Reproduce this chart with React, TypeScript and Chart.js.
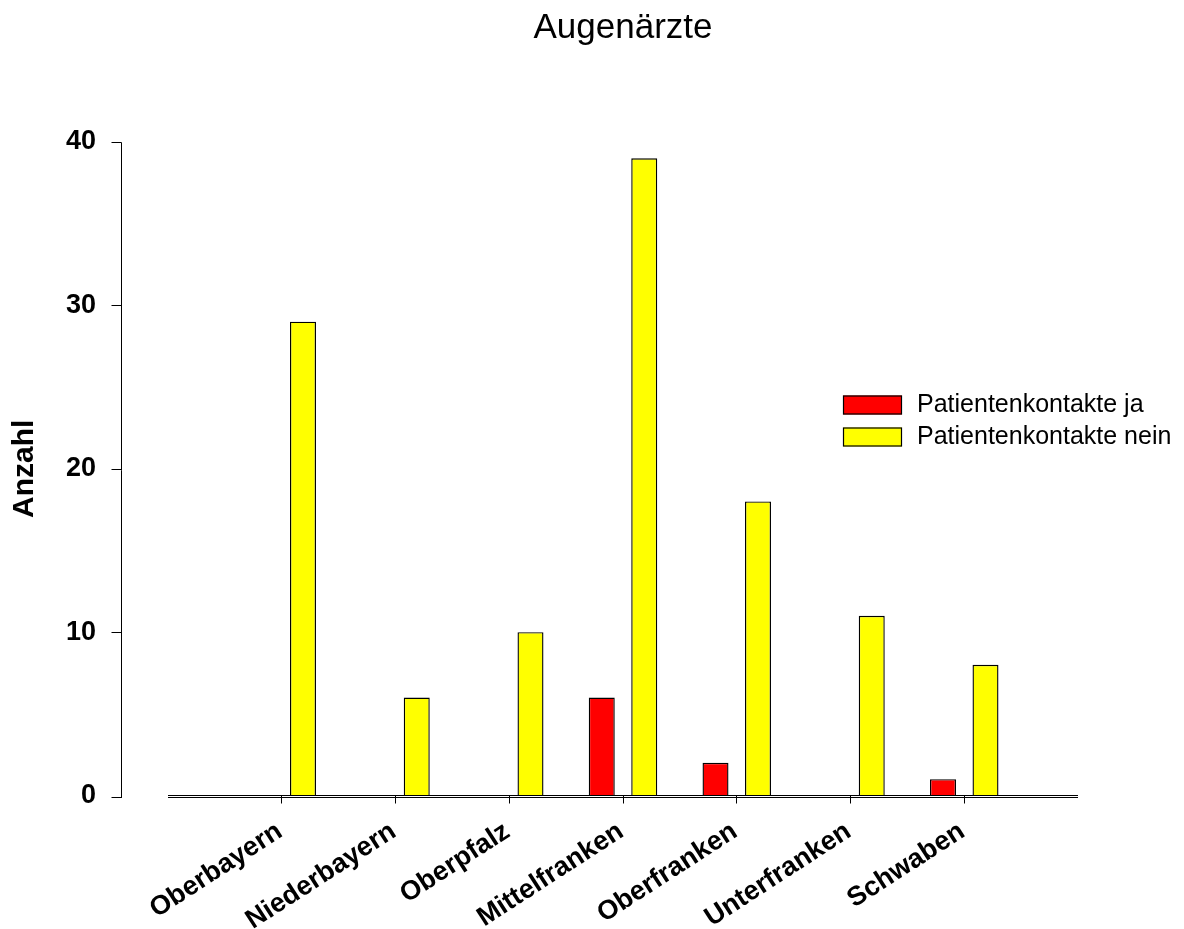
import React, { useEffect, useRef } from 'react';
import { Chart, registerables } from 'chart.js';

Chart.register(...registerables);

const chartTitle = 'Augenärzte';
const yAxisTitle = 'Anzahl';
const categories = ['Oberbayern', 'Niederbayern', 'Oberpfalz', 'Mittelfranken', 'Oberfranken', 'Unterfranken', 'Schwaben'];
const kontakteJa = [0, 0, 0, 6, 2, 0, 1];
const kontakteNein = [29, 6, 10, 39, 18, 11, 8];
const seriesNames = ['Patientenkontakte ja', 'Patientenkontakte nein'];
const seriesColors = ['#ff0000', '#ffff00'];
const yTicks = [0, 10, 20, 30, 40];

const FONT = 'Arial, "Liberation Sans", Helvetica, sans-serif';
const W = 1184;
const H = 929;

const customPlugin = {
  id: 'customAxesLegend',
  afterDatasetsDraw(chart: any) {
    const { ctx, chartArea } = chart;
    const ys = chart.scales.y;
    ctx.save();
    ctx.strokeStyle = '#000';
    ctx.lineWidth = 1;
    const b = Math.round(chartArea.bottom);
    // double x-axis line
    ctx.beginPath();
    ctx.moveTo(chartArea.left, b - 0.5);
    ctx.lineTo(chartArea.right, b - 0.5);
    ctx.moveTo(chartArea.left, b + 1.5);
    ctx.lineTo(chartArea.right, b + 1.5);
    ctx.stroke();
    // detached y axis
    const ax = Math.round(chartArea.left - 47) + 0.5;
    const maxV = yTicks[yTicks.length - 1];
    ctx.beginPath();
    ctx.moveTo(ax, Math.round(ys.getPixelForValue(maxV)) + 0.5);
    ctx.lineTo(ax, b + 2);
    for (const v of yTicks) {
      const py = Math.round(ys.getPixelForValue(v)) + 0.5 + (v === 0 ? 1 : 0);
      ctx.moveTo(ax - 10, py);
      ctx.lineTo(ax, py);
    }
    ctx.stroke();
    // legend
    const lx = chartArea.right - 235;
    const rows = [chartArea.top + 263, chartArea.top + 295];
    ctx.font = '25px ' + FONT;
    ctx.textBaseline = 'middle';
    ctx.textAlign = 'left';
    seriesNames.forEach((name, i) => {
      const cy = rows[i];
      ctx.fillStyle = seriesColors[i];
      ctx.fillRect(lx, cy - 9.5, 59, 19);
      ctx.strokeStyle = '#000';
      ctx.lineWidth = 1.2;
      ctx.strokeRect(lx + 0.5, cy - 9, 58, 18);
      ctx.fillStyle = '#000';
      ctx.fillText(name, lx + 74, cy);
    });
    ctx.restore();
  },
};

export default function App() {
  const ref = useRef<HTMLCanvasElement>(null);
  useEffect(() => {
    document.body.style.margin = '0';
    document.body.style.overflow = 'hidden';
    const labels = ['', ...categories, ''];
    const pad = (arr: number[]) => [null, ...arr, null];
    const chart = new Chart(ref.current as HTMLCanvasElement, {
      type: 'bar',
      data: {
        labels,
        datasets: [
          {
            label: seriesNames[0],
            data: pad(kontakteJa),
            backgroundColor: seriesColors[0],
            borderColor: '#000',
            borderWidth: (c: any) => (c.raw ? 1.4 : 0),
            categoryPercentage: 0.747,
            barPercentage: 0.612,
          },
          {
            label: seriesNames[1],
            data: pad(kontakteNein),
            backgroundColor: seriesColors[1],
            borderColor: '#000',
            borderWidth: (c: any) => (c.raw ? 1.4 : 0),
            categoryPercentage: 0.747,
            barPercentage: 0.612,
          },
        ] as any,
      },
      options: {
        animation: false,
        responsive: false,
        maintainAspectRatio: false,
        layout: { padding: { left: 0, right: 106, top: 0, bottom: 0 } },
        plugins: {
          legend: { display: false },
          tooltip: { enabled: false },
          title: {
            display: true,
            text: chartTitle,
            color: '#000',
            fullSize: false,
            font: { family: FONT, size: 35, weight: 'normal' },
            padding: { top: 7, bottom: 93 },
          },
        },
        scales: {
          x: {
            type: 'category',
            offset: false,
            grid: {
              display: true,
              offset: false,
              drawOnChartArea: false,
              drawTicks: true,
              tickLength: 8,
              tickColor: (c: any) => (c.index === 0 || c.index === labels.length - 1 ? 'rgba(0,0,0,0)' : '#000'),
              tickWidth: 1,
            },
            border: { display: false },
            ticks: {
              autoSkip: false,
              minRotation: 33,
              maxRotation: 33,
              padding: 12,
              labelOffset: -2,
              color: '#000',
              font: { family: FONT, size: 27, weight: 'bold' },
            },
            afterFit: (s: any) => {
              s.height = H - 795.5;
            },
          },
          y: {
            min: 0,
            max: 40,
            grid: { display: false, drawTicks: false },
            border: { display: false },
            ticks: {
              stepSize: 10,
              padding: 72,
              color: '#000',
              font: { family: FONT, size: 27, weight: 'bold' },
            },
            title: {
              display: true,
              text: yAxisTitle,
              color: '#000',
              font: { family: FONT, size: 30, weight: 'bold' },
              padding: { top: 7, bottom: 0 },
            },
            afterFit: (s: any) => {
              s.width = 168;
            },
          },
        },
      } as any,
      plugins: [customPlugin],
    });
    return () => chart.destroy();
  }, []);
  return (
    <div style={{ width: W, height: H, background: '#fff' }}>
      <canvas ref={ref} width={W} height={H} style={{ display: 'block', width: W, height: H }} />
    </div>
  );
}
